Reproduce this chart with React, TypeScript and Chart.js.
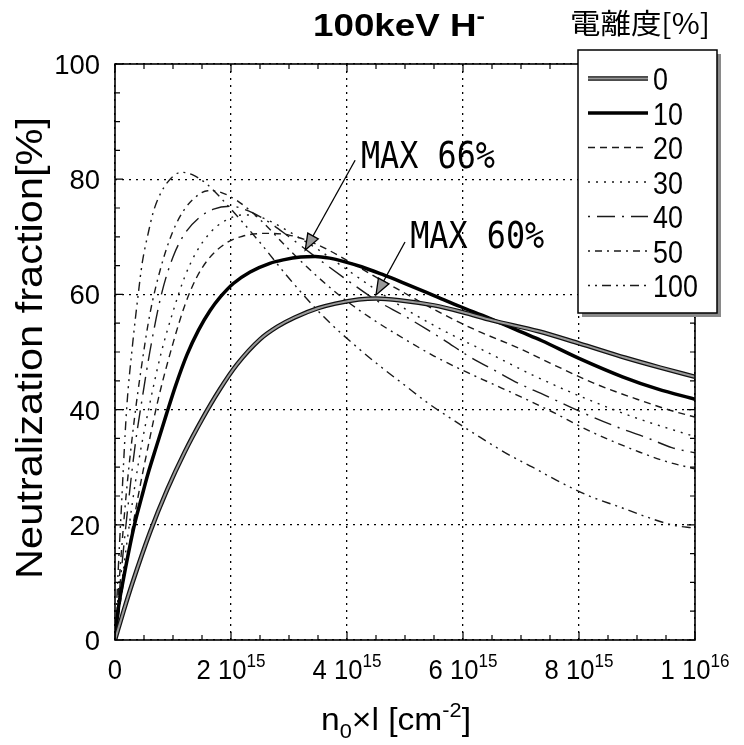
import React, { useEffect, useRef } from 'react';
import { Chart, registerables } from 'chart.js';

Chart.register(...registerables);

// ---------- data (x in units of 1e15 cm^-2, y in %) ----------
const ionizationLabels = ['0', '10', '20', '30', '40', '50', '100'];

const ion0 = [[0,0],[0.15,5.1],[0.3,9.9],[0.6,18.6],[0.9,26.1],[1.2,32.6],[1.5,38.3],[1.8,43.4],[2.1,47.8],[2.5,52.2],[2.8,54.4],[3.1,56.0],[3.5,57.6],[3.8,58.4],[4.2,59.1],[4.5,59.3],[4.9,59.0],[5.5,58.1],[6.0,56.9],[6.5,55.5],[7.3,53.6],[8.0,51.5],[8.8,49.0],[9.4,47.3],[10,45.7]];
const ion10 = [[0,0],[0.06,5.7],[0.14,10.3],[0.23,15.0],[0.34,20.2],[0.46,24.8],[0.57,28.9],[0.72,33.8],[0.89,39.3],[1.05,44.3],[1.24,49.5],[1.44,53.8],[1.64,57.2],[1.82,59.6],[2.04,61.9],[2.33,63.9],[2.67,65.4],[2.9,66.0],[3.2,66.5],[3.45,66.6],[3.7,66.3],[3.95,65.7],[4.25,64.8],[4.6,63.5],[4.95,62.1],[5.5,59.8],[5.95,57.9],[6.45,55.9],[7.0,53.5],[7.35,52.0],[8.0,48.9],[8.75,45.7],[9.35,43.6],[10,41.8]];
const ion20 = [[0,0],[0.1,7],[0.2,13.5],[0.4,25],[0.6,35],[0.75,42],[1.0,51.5],[1.2,58],[1.4,62.8],[1.6,66],[1.9,68.8],[2.2,70.1],[2.6,70.6],[3.0,70.3],[3.5,68.6],[4.0,65.9],[4.5,63.0],[5.0,60.2],[5.5,57.4],[6.2,53.9],[7.0,50.5],[7.6,47.6],[8.3,44.4],[9.0,41.8],[9.6,39.8],[10,38.7]];
const ion30 = [[0,0],[0.1,8.5],[0.2,16.5],[0.4,30.5],[0.62,42],[0.8,50],[1.0,57],[1.2,63],[1.4,67.3],[1.65,70.8],[1.9,72.8],[2.2,73.8],[2.45,73.6],[2.7,72.6],[3.0,70.9],[3.5,67.8],[4.0,64.3],[4.5,60.8],[5.0,57.5],[5.5,54.6],[6.0,52.0],[6.35,50.3],[6.8,48.0],[7.2,46.0],[8.0,42.4],[9.0,38.5],[10,35.3]];
const ion40 = [[0,0],[0.1,11],[0.2,21],[0.35,34],[0.47,42],[0.6,50],[0.8,60],[1.0,66.5],[1.2,70.5],[1.45,73.3],[1.7,74.8],[2.0,75.3],[2.3,74.5],[2.6,72.9],[3.0,70.0],[3.5,66.2],[4.0,62.5],[4.5,59.0],[5.0,56.2],[5.4,53.8],[5.7,51.9],[6.06,49.5],[6.6,46.5],[6.95,44.6],[7.5,42.1],[7.9,40.2],[8.7,36.8],[9.2,35.0],[9.6,33.4],[10,32.5]];
const ion50 = [[0,0],[0.1,14],[0.2,26],[0.33,38],[0.45,47],[0.6,56.5],[0.8,65],[1.0,71],[1.2,74.8],[1.4,77],[1.6,78],[1.8,77.8],[2.1,76.3],[2.5,73.0],[3.0,67.8],[3.5,63.0],[4.0,58.8],[4.5,55.3],[5.0,52.2],[5.5,49.3],[6.0,46.8],[6.5,44.5],[7.0,42.2],[7.5,39.8],[8.2,36.2],[9.05,32.6],[9.5,31.0],[10,29.7]];
const ion100 = [[0,0],[0.05,11],[0.1,21],[0.2,40],[0.3,51],[0.4,60],[0.47,65.5],[0.57,70.5],[0.66,74.3],[0.8,77.8],[1.0,80.5],[1.15,81.2],[1.35,80.7],[1.6,79.0],[2.0,74.8],[2.5,69.0],[3.0,62.8],[3.6,56.1],[4.2,50.6],[4.6,47.3],[5.0,44.2],[5.4,41.1],[5.8,38.4],[6.2,35.8],[6.8,32.1],[7.2,30.0],[7.6,27.8],[8.2,24.9],[8.7,23.1],[9.1,21.6],[9.6,20.0],[10,19.4]];

const xTickValues = [0, 2, 4, 6, 8, 10];
const xTickMantissas = ['0', '2', '4', '6', '8', '1'];
const xTickExponents = ['', '15', '15', '15', '15', '16'];
const yTickValues = [0, 20, 40, 60, 80, 100];
const yTickLabels = ['0', '20', '40', '60', '80', '100'];

const titleText = '100keV H';
const titleSup = '-';
const legendTitle = '電離度[%]';
const yAxisTitle = 'Neutralization fraction[%]';

const maxLabels = ['MAX 66%', 'MAX 60%'];
const maxTips = [[3.28, 67.7], [4.5, 59.9]];
const maxTails = [[4.14, 83.3], [5.0, 69.1]];
const maxTextAnchors = [[4.24, 81.9], [5.09, 68.0]];

// ---------- styles ----------
const SANS = '"Liberation Sans", Arial, Helvetica, sans-serif';
const MONO = '"DejaVu Sans Mono", "Liberation Mono", monospace';
const CJK = '"Noto Sans CJK JP", "Noto Sans CJK SC", sans-serif';

const seriesData = [ion0, ion10, ion20, ion30, ion40, ion50, ion100];
const seriesDash: number[][] = [[], [], [7, 5], [2, 6], [2, 7, 18, 7], [2, 5, 7, 5], [2, 5, 2, 5, 9, 5]];

type Seg = { t: string; size: number; dy?: number; weight?: string; family?: string };

function drawRich(
  ctx: CanvasRenderingContext2D,
  segs: Seg[],
  x: number,
  y: number,
  opts: { align?: 'left' | 'center' | 'right'; width?: number; sx?: number; rotate?: number }
) {
  ctx.save();
  const fontOf = (s: Seg) => `${s.weight || 'normal'} ${s.size}px ${s.family || SANS}`;
  const widths = segs.map((s) => {
    ctx.font = fontOf(s);
    return ctx.measureText(s.t).width;
  });
  const natural = widths.reduce((a, b) => a + b, 0);
  const sx = opts.width ? opts.width / natural : opts.sx ?? 1;
  ctx.translate(x, y);
  if (opts.rotate) ctx.rotate(opts.rotate);
  ctx.scale(sx, 1);
  const align = opts.align || 'left';
  let cx = align === 'center' ? -natural / 2 : align === 'right' ? -natural : 0;
  ctx.textBaseline = 'alphabetic';
  ctx.textAlign = 'left';
  ctx.fillStyle = '#000';
  segs.forEach((s, i) => {
    ctx.font = fontOf(s);
    ctx.fillText(s.t, cx, s.dy || 0);
    cx += widths[i];
  });
  ctx.restore();
}

function strokeSample(ctx: CanvasRenderingContext2D, i: number, x1: number, x2: number, y: number) {
  ctx.save();
  ctx.lineCap = 'butt';
  if (i === 0) {
    ctx.setLineDash([]);
    ctx.strokeStyle = '#111';
    ctx.lineWidth = 4.5;
    ctx.beginPath(); ctx.moveTo(x1, y); ctx.lineTo(x2, y); ctx.stroke();
    ctx.strokeStyle = '#9a9a9a';
    ctx.lineWidth = 2;
    ctx.beginPath(); ctx.moveTo(x1, y); ctx.lineTo(x2, y); ctx.stroke();
  } else if (i === 1) {
    ctx.setLineDash([]);
    ctx.strokeStyle = '#000';
    ctx.lineWidth = 3.5;
    ctx.beginPath(); ctx.moveTo(x1, y); ctx.lineTo(x2, y); ctx.stroke();
  } else {
    ctx.setLineDash(seriesDash[i]);
    ctx.strokeStyle = '#1a1a1a';
    ctx.lineWidth = 1.4;
    ctx.beginPath(); ctx.moveTo(x1, y); ctx.lineTo(x2, y); ctx.stroke();
  }
  ctx.restore();
}

const decorPlugin = {
  id: 'decor',
  afterDraw(chart: any) {
    const ctx: CanvasRenderingContext2D = chart.ctx;
    const { left, right, top, bottom } = chart.chartArea;
    const xs = chart.scales.x;
    const ys = chart.scales.y;
    ctx.save();

    // frame
    ctx.setLineDash([]);
    ctx.strokeStyle = '#000';
    ctx.lineWidth = 1.6;
    ctx.strokeRect(left, top, right - left, bottom - top);

    // inner ticks (major + minor) on all four sides
    ctx.lineWidth = 1.2;
    ctx.beginPath();
    for (let v = xs.min; v <= xs.max + 1e-9; v += 0.5) {
      const px = xs.getPixelForValue(v);
      const len = Math.abs(v % 2) < 1e-9 ? 8 : 5;
      ctx.moveTo(px, bottom); ctx.lineTo(px, bottom - len);
      ctx.moveTo(px, top); ctx.lineTo(px, top + len);
    }
    for (let v = ys.min; v <= ys.max + 1e-9; v += 5) {
      const py = ys.getPixelForValue(v);
      const len = Math.abs(v % 20) < 1e-9 ? 8 : 5;
      ctx.moveTo(left, py); ctx.lineTo(left + len, py);
      ctx.moveTo(right, py); ctx.lineTo(right - len, py);
    }
    ctx.stroke();

    // tick labels
    xTickValues.forEach((v, i) => {
      const px = xs.getPixelForValue(v);
      const segs: Seg[] = xTickExponents[i]
        ? [{ t: xTickMantissas[i] + ' 10', size: 27 }, { t: xTickExponents[i], size: 18, dy: -12 }]
        : [{ t: xTickMantissas[i], size: 27 }];
      drawRich(ctx, segs, px, 679, { align: 'center', sx: 0.95 });
    });
    yTickValues.forEach((v, i) => {
      const py = ys.getPixelForValue(v);
      drawRich(ctx, [{ t: yTickLabels[i], size: 28 }], 100, py + 10, { align: 'right', sx: 0.98 });
    });

    // axis titles
    drawRich(
      ctx,
      [
        { t: 'n', size: 31 },
        { t: '0', size: 20, dy: 8 },
        { t: '×l [cm', size: 31 },
        { t: '-2', size: 20, dy: -13 },
        { t: ']', size: 31 },
      ],
      396,
      730,
      { align: 'center', width: 150 }
    );
    drawRich(ctx, [{ t: yAxisTitle, size: 36 }], 42, 348, { align: 'center', width: 462, rotate: -Math.PI / 2 });

    // chart title
    drawRich(
      ctx,
      [
        { t: titleText, size: 32, weight: 'bold' },
        { t: titleSup, size: 22, weight: 'bold', dy: -13 },
      ],
      313,
      36,
      { align: 'left', width: 172 }
    );

    // MAX annotations
    maxLabels.forEach((label, i) => {
      const tx = xs.getPixelForValue(maxTips[i][0]);
      const ty = ys.getPixelForValue(maxTips[i][1]);
      const fx = xs.getPixelForValue(maxTails[i][0]);
      const fy = ys.getPixelForValue(maxTails[i][1]);
      const dx = tx - fx, dy = ty - fy;
      const d = Math.hypot(dx, dy);
      const ux = dx / d, uy = dy / d;
      const nx = -uy, ny = ux;
      const L = 16, W = 6;
      const bx = tx - ux * L, by = ty - uy * L;
      ctx.setLineDash([]);
      ctx.strokeStyle = '#000';
      ctx.lineWidth = 1.3;
      ctx.beginPath(); ctx.moveTo(fx, fy); ctx.lineTo(bx, by); ctx.stroke();
      ctx.beginPath();
      ctx.moveTo(tx, ty);
      ctx.lineTo(bx + nx * W, by + ny * W);
      ctx.lineTo(bx - nx * W, by - ny * W);
      ctx.closePath();
      ctx.fillStyle = '#9a9a9a';
      ctx.fill();
      ctx.stroke();
      const ax = xs.getPixelForValue(maxTextAnchors[i][0]);
      const ay = ys.getPixelForValue(maxTextAnchors[i][1]);
      drawRich(ctx, [{ t: label, size: 38, family: MONO }], ax, ay, { align: 'left', width: 134 });
    });

    // legend
    drawRich(ctx, [{ t: legendTitle, size: 28, family: CJK }], 570, 34, { align: 'left', width: 140 });
    const bxL = 578, byT = 50, bw = 139, bh = 263;
    ctx.fillStyle = '#8a8a8a';
    ctx.fillRect(bxL + 4, byT + 4, bw, bh);
    ctx.fillStyle = '#fff';
    ctx.fillRect(bxL, byT, bw, bh);
    ctx.setLineDash([]);
    ctx.strokeStyle = '#000';
    ctx.lineWidth = 1.5;
    ctx.strokeRect(bxL, byT, bw, bh);
    ionizationLabels.forEach((lab, i) => {
      const cy = 78.5 + i * 34.5;
      strokeSample(ctx, i, 588, 648, cy);
      drawRich(ctx, [{ t: lab, size: 32 }], 653, cy + 11.5, { align: 'left', sx: 0.84 });
    });

    ctx.restore();
  },
};

export default function App() {
  const ref = useRef<HTMLCanvasElement>(null);
  useEffect(() => {
    const canvas = ref.current;
    if (!canvas) return;
    const toPts = (arr: number[][]) => arr.map(([x, y]) => ({ x, y }));
    const base = { pointRadius: 0, fill: false, cubicInterpolationMode: 'monotone' as const, borderCapStyle: 'butt' as const };
    const datasets: any[] = [
      { ...base, label: ionizationLabels[0], data: toPts(seriesData[0]), borderColor: '#9a9a9a', borderWidth: 2, order: 0 },
      { ...base, label: ionizationLabels[0] + ' edge', data: toPts(seriesData[0]), borderColor: '#111', borderWidth: 4.5, order: 1 },
      { ...base, label: ionizationLabels[1], data: toPts(seriesData[1]), borderColor: '#000', borderWidth: 3.5, order: 2 },
    ];
    for (let i = 2; i < seriesData.length; i++) {
      datasets.push({
        ...base,
        label: ionizationLabels[i],
        data: toPts(seriesData[i]),
        borderColor: '#1a1a1a',
        borderWidth: 1.4,
        borderDash: seriesDash[i],
        order: 3 + i,
      });
    }
    const chart = new Chart(canvas, {
      type: 'line',
      data: { datasets },
      options: {
        responsive: false,
        maintainAspectRatio: false,
        animation: false,
        layout: { padding: { top: 64, right: 49, left: 0, bottom: 0 } },
        plugins: { legend: { display: false }, tooltip: { enabled: false }, title: { display: false } },
        scales: {
          x: {
            type: 'linear',
            min: 0,
            max: 10,
            afterFit: (s: any) => { s.height = 105; },
            ticks: { display: false, stepSize: 2 },
            grid: { color: '#000', lineWidth: 1.3, drawTicks: false, borderDash: [2, 5] } as any,
            border: { display: false, dash: [2, 5] },
          },
          y: {
            type: 'linear',
            min: 0,
            max: 100,
            afterFit: (s: any) => { s.width = 115; },
            ticks: { display: false, stepSize: 20 },
            grid: { color: '#000', lineWidth: 1.3, drawTicks: false, borderDash: [2, 5] } as any,
            border: { display: false, dash: [2, 5] },
          },
        },
      },
      plugins: [decorPlugin],
    });
    return () => chart.destroy();
  }, []);
  return (
    <div style={{ position: 'fixed', left: 0, top: 0, width: 744, height: 745, background: '#fff' }}>
      <canvas ref={ref} width={744} height={745} style={{ display: 'block', width: 744, height: 745 }} />
    </div>
  );
}
